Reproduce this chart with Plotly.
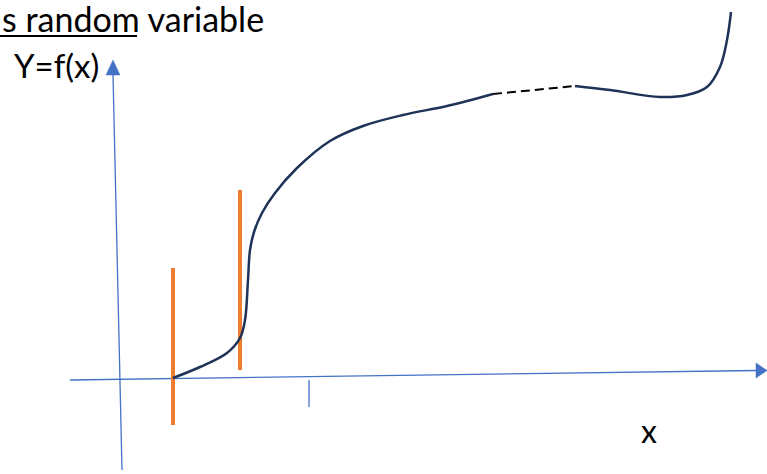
import plotly.graph_objects as go

W, H = 767, 474

# Curve (pixel-space data coordinates of the drawing)
curve_x = [173, 200, 227, 240, 245, 248, 250, 254, 262, 275, 297, 330, 363, 403, 447, 493]
curve_y = [378, 367, 353, 338, 320, 280, 250, 232, 213, 193, 168, 141, 126, 115, 106, 94]
dash_x = [493, 575]
dash_y = [94, 86]
right_x = [575, 610, 660, 687, 707, 720, 727, 731]
right_y = [86, 90, 97, 95, 87, 67, 40, 12]

# Axes
xaxis_x = [70, 757]
xaxis_y = [380, 370.5]
xhead_x = [756, 767, 756, 756]
xhead_y = [363, 370.5, 378, 363]
yaxis_x = [122, 113]
yaxis_y = [470, 74]
yhead_x = [106, 113, 120, 106]
yhead_y = [75, 60, 75, 75]
tick_x = [309, 309]
tick_y = [380, 407]

# Orange bars
bar1_x = [173, 173]
bar1_y = [268, 425]
bar2_x = [240, 240]
bar2_y = [190, 370]

BLUE = "#4472C4"
ORANGE = "#ED7D31"
NAVY = "#1F3257"

fig = go.Figure()
def line(x, y, color, width, dash=None, shape="linear"):
    fig.add_trace(go.Scatter(x=x, y=y, mode="lines",
                             line=dict(color=color, width=width, dash=dash, shape=shape),
                             hoverinfo="skip", showlegend=False, cliponaxis=False))

line(xaxis_x, xaxis_y, BLUE, 1.3)
line(yaxis_x, yaxis_y, BLUE, 1.3)
line(tick_x, tick_y, BLUE, 1.3)
for hx, hy in [(xhead_x, xhead_y), (yhead_x, yhead_y)]:
    fig.add_trace(go.Scatter(x=hx, y=hy, mode="lines", fill="toself",
                             fillcolor=BLUE, line=dict(color=BLUE, width=0.5),
                             hoverinfo="skip", showlegend=False, cliponaxis=False))
line(bar1_x, bar1_y, ORANGE, 4)
line(bar2_x, bar2_y, ORANGE, 4)
line(curve_x, curve_y, NAVY, 2.5, shape="spline")
line(dash_x, dash_y, "black", 2, dash="9px,5px")
line(right_x, right_y, NAVY, 2.5, shape="spline")

FONT = "Lato, Open Sans, sans-serif"
fig.add_annotation(xref="paper", x=0, y=18, text="s random variable", showarrow=False,
                   xanchor="left", yanchor="middle",
                   font=dict(family=FONT, size=34, color="black"))
line([0, 137], [36, 36], "black", 2.2)
fig.add_annotation(x=12, y=65, text="Y=f(x)", showarrow=False,
                   xanchor="left", yanchor="middle",
                   font=dict(family=FONT, size=33, color="black"))
fig.add_annotation(x=649, y=430, text="x", showarrow=False,
                   xanchor="center", yanchor="middle",
                   font=dict(family=FONT, size=32, color="black"))

fig.update_layout(
    width=W, height=H, margin=dict(l=0, r=0, t=0, b=0),
    paper_bgcolor="white", plot_bgcolor="white",
    xaxis=dict(range=[0, W], visible=False, fixedrange=True),
    yaxis=dict(range=[H, 0], visible=False, fixedrange=True),
)
fig.write_html("out.html", config={"displayModeBar": False},
               post_script="document.body.style.margin='0';document.body.style.overflow='hidden';")
